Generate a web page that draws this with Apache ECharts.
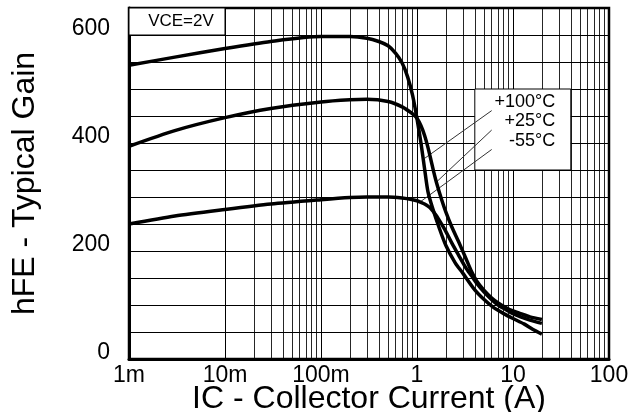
<!DOCTYPE html>
<html>
<head>
<meta charset="utf-8">
<script src="https://cdn.jsdelivr.net/npm/echarts@6/dist/echarts.min.js"></script>
<style>
html,body{margin:0;padding:0;background:#fff;}
#chart{width:630px;height:412px;}
</style>
</head>
<body>
<div id="chart"></div>
<script>
// ---- data ----
const seriesNames = ['+100°C', '+25°C', '-55°C'];
const hot100 = [[0.001,544],[0.003,559],[0.01,575],[0.03,588],[0.1,597],[0.2,597],[0.3,594],[0.4,588],[0.5,580],[0.6,566],[0.7,548],[0.8,522],[0.9,488],[1.0,445],[1.1,400],[1.2,352],[1.3,310],[1.45,280],[1.7,243],[2.0,210],[2.5,178],[3.0,159],[4.0,128],[5.0,110],[6.2,96],[8,84],[10,75],[13,65],[16,55],[20,46]];
const room25 = [[0.001,394],[0.003,423],[0.01,447],[0.03,464],[0.1,476],[0.2,480],[0.3,481],[0.5,477],[0.7,467],[0.9,454],[1.0,446],[1.1,432],[1.2,414],[1.3,392],[1.4,368],[1.5,345],[1.6,326],[1.8,296],[2.0,272],[2.3,245],[2.7,218],[3.2,188],[3.7,162],[4.2,144],[5,127],[6,113],[7,104],[8.5,95],[10,89],[12,84],[15,78],[20,73]];
const cold55 = [[0.001,250],[0.003,265],[0.01,277],[0.03,287],[0.1,295],[0.2,299],[0.3,300],[0.5,300],[0.7,298],[0.9,295],[1.0,293],[1.1,290],[1.2,287],[1.3,283],[1.4,278],[1.6,265],[1.8,250],[2.0,236],[2.3,215],[2.7,193],[3.2,170],[3.7,154],[4.2,140],[5,124],[6,110],[7,100],[8.5,91],[10,84],[12,78],[15,72],[20,66]];
const xTickLabels = ['1m','10m','100m','1','10','100'];
const yTickValues = [0,200,400,600];
const minorMultipliers = [2,3,4,5,6,7,8,9];
const decades = [0.001,0.01,0.1,1,10];
const conditionText = 'VCE=2V';
// leader lines: [start, end] in data units
const leader100 = [[6.0,460],[1.21,372]];
const leader25 = [[6.0,424],[1.6,328]];
const leader55 = [[6.0,388],[1.1,292]];
const legendBox = [[4,500],[40,350]];
const conditionBox = [[0.001,650],[0.01,600]];

const minorXs = [];
decades.forEach(d => minorMultipliers.forEach(m => minorXs.push(+(d*m).toPrecision(3))));

const font = 'Liberation Sans, Arial, sans-serif';
const chart = echarts.init(document.getElementById('chart'), null, {renderer:'canvas'});

const curveStyle = {color:'#000', width:3.5};
function curve(name, data){
  return {name, type:'line', data, showSymbol:false, symbol:'none', smooth:0.25,
    lineStyle:curveStyle, z:6, silent:true};
}
function leader(data){
  return {type:'line', data, showSymbol:false, symbol:'none', lineStyle:{color:'#333', width:1}, z:5, silent:true};
}

chart.setOption({
  animation:false,
  backgroundColor:'#fff',
  grid:{left:129, right:21, top:8, bottom:53, outerBoundsMode:'none', containLabel:false,
    show:true, borderColor:'#000', borderWidth:2.5, backgroundColor:'#fff'},
  xAxis:{
    type:'log', logBase:10, min:0.001, max:100,
    axisLine:{show:true, lineStyle:{color:'#000', width:3}},
    axisTick:{show:false},
    splitLine:{show:true, lineStyle:{color:'#000', width:1}},
    axisLabel:{color:'#000', fontFamily:font, fontSize:23, margin:5,
      formatter:v => { const i = Math.round(Math.log10(v)) + 3; return xTickLabels[i] ?? ''; }},
    name:'IC - Collector Current (A)', nameLocation:'middle', nameGap:24, nameMoveOverlap:false,
    nameTextStyle:{color:'#000', fontFamily:font, fontSize:32}
  },
  yAxis:{
    type:'value', min:0, max:650, interval:50,
    axisLine:{show:true, lineStyle:{color:'#000', width:3}},
    axisTick:{show:false},
    splitLine:{show:true, lineStyle:{color:'#000', width:1}},
    axisLabel:{color:'#000', fontFamily:font, fontSize:23, margin:19, verticalAlign:'bottom', lineHeight:13,
      formatter:v => yTickValues.includes(v) ? String(v) : ''},
    name:'hFE - Typical Gain', nameLocation:'middle', nameGap:88, nameMoveOverlap:false,
    nameTextStyle:{color:'#000', fontFamily:font, fontSize:32}
  },
  series:[
    {type:'line', data:[], silent:true, z:1,
      markLine:{silent:true, symbol:'none', z:1, animation:false,
        label:{show:false}, lineStyle:{color:'#000', width:1, type:'solid', opacity:0.85},
        data:minorXs.map(x => ({xAxis:x}))}},
    {type:'line', data:[], silent:true, z:3,
      markArea:{silent:true, z:3, animation:false,
        itemStyle:{color:'#fff', borderColor:'#000', borderWidth:1},
        data:[
          [{coord:conditionBox[0], label:{show:true, position:'inside', offset:[4,0], formatter:conditionText,
              color:'#000', fontFamily:font, fontSize:17}},
           {coord:conditionBox[1]}],
          [{coord:legendBox[0], label:{show:true, position:'insideRight', distance:16, offset:[0,-8],
              formatter:seriesNames.join('\n'), align:'right', lineHeight:19.5,
              color:'#000', fontFamily:font, fontSize:18}},
           {coord:legendBox[1]}]
        ]}},
    leader(leader100), leader(leader25), leader(leader55),
    curve(seriesNames[0], hot100),
    curve(seriesNames[1], room25),
    curve(seriesNames[2], cold55)
  ]
});
</script>
</body>
</html>
